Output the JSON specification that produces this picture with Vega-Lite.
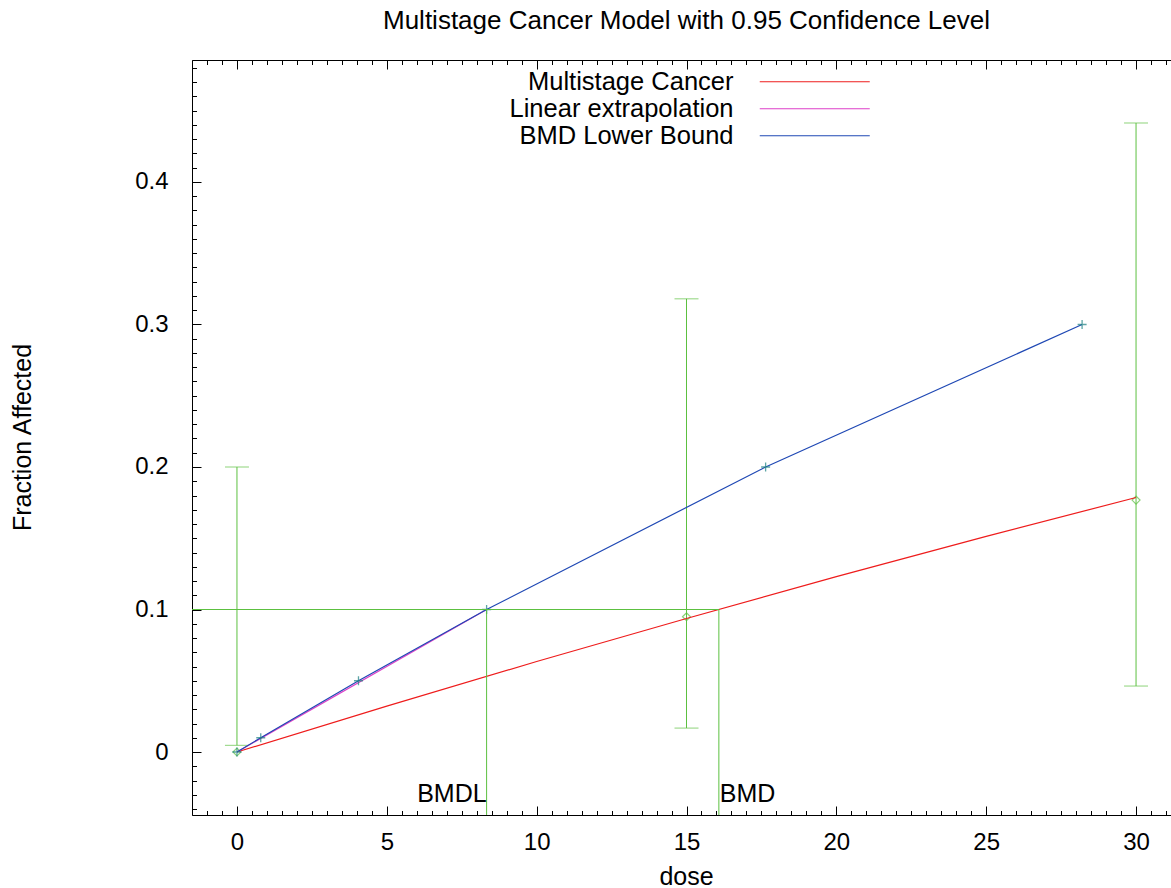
{
  "$schema": "https://vega.github.io/schema/vega-lite/v6.json",
  "autosize": {"type": "none"},
  "padding": {"left": 192, "top": 60, "right": 0, "bottom": 73},
  "width": 989,
  "height": 755,
  "background": "white",
  "title": {"text": "Multistage Cancer Model with 0.95 Confidence Level", "font": "Liberation Sans", "fontSize": 26, "fontWeight": "normal", "color": "#000", "anchor": "middle", "frame": "group", "baseline": "alphabetic", "offset": 5},
  "config": {
    "view": {"stroke": "#000", "strokeWidth": 1},
    "axis": {"domain": false, "grid": false, "labelFont": "Liberation Sans", "labelFontSize": 24, "labelColor": "#000", "tickColor": "#000", "tickWidth": 1, "labelOverlap": false, "titleFont": "Liberation Sans", "titleFontSize": 25, "titleFontWeight": "normal", "titleColor": "#000"}
  },
  "datasets": {
    "curves": [
      {"series": "Multistage Cancer", "dose": 0, "frac": 0, "ord": 0},
      {"series": "Multistage Cancer", "dose": 5, "frac": 0.0322, "ord": 1},
      {"series": "Multistage Cancer", "dose": 10, "frac": 0.0635, "ord": 2},
      {"series": "Multistage Cancer", "dose": 15, "frac": 0.0937, "ord": 3},
      {"series": "Multistage Cancer", "dose": 20, "frac": 0.1231, "ord": 4},
      {"series": "Multistage Cancer", "dose": 25, "frac": 0.1513, "ord": 5},
      {"series": "Multistage Cancer", "dose": 30, "frac": 0.1786, "ord": 6},
      {"series": "Linear extrapolation", "dose": 0, "frac": 0, "ord": 0},
      {"series": "Linear extrapolation", "dose": 8.33, "frac": 0.1, "ord": 1},
      {"series": "BMD Lower Bound", "dose": 0, "frac": 0, "ord": 0},
      {"series": "BMD Lower Bound", "dose": 0.794, "frac": 0.01, "ord": 1},
      {"series": "BMD Lower Bound", "dose": 4.055, "frac": 0.05, "ord": 2},
      {"series": "BMD Lower Bound", "dose": 8.33, "frac": 0.1, "ord": 3},
      {"series": "BMD Lower Bound", "dose": 17.64, "frac": 0.2, "ord": 4},
      {"series": "BMD Lower Bound", "dose": 28.2, "frac": 0.3, "ord": 5}
    ],
    "obs": [
      {"dose": 0, "frac": 0, "lo": 0.0047, "hi": 0.2},
      {"dose": 15, "frac": 0.0949, "lo": 0.0168, "hi": 0.318},
      {"dose": 30, "frac": 0.1768, "lo": 0.0463, "hi": 0.4414}
    ],
    "bmd": [
      {"x": -1.5, "x2": 16.08, "y": 0.1, "y2": 0.1},
      {"x": 8.33, "x2": 8.33, "y": 0.1, "y2": -0.0442},
      {"x": 16.08, "x2": 16.08, "y": 0.1, "y2": -0.0442}
    ],
    "labels": [
      {"x": 8.33, "y": -0.0349, "label": "BMDL", "side": "right"},
      {"x": 16.08, "y": -0.0349, "label": "BMD", "side": "left"}
    ]
  },
  "resolve": {"axis": {"x": "independent", "y": "independent"}},
  "layer": [
    {
      "data": {"name": "obs"},
      "mark": {"type": "rule", "color": "#5cc040", "strokeWidth": 1},
      "encoding": {
        "x": {"field": "dose", "type": "quantitative", "scale": {"domain": [-1.5, 31.5], "nice": false, "zero": false},
              "axis": {"orient": "bottom", "labels": false, "ticks": true, "tickSize": -9, "title": null, "values": [0, 5, 10, 15, 20, 25, 30]}},
        "y": {"field": "lo", "type": "quantitative", "scale": {"domain": [-0.0442, 0.4856], "nice": false, "zero": false},
              "axis": {"orient": "left", "labels": false, "ticks": true, "tickSize": -9, "title": null, "values": [0, 0.1, 0.2, 0.3, 0.4]}},
        "y2": {"field": "hi"}
      }
    },
    {
      "data": {"name": "obs"},
      "transform": [{"fold": ["lo", "hi"], "as": ["end", "val"]}],
      "mark": {"type": "tick", "orient": "horizontal", "color": "#5cc040", "size": 24, "thickness": 1},
      "encoding": {
        "x": {"field": "dose", "type": "quantitative",
              "axis": {"orient": "bottom", "labels": false, "ticks": true, "tickSize": -4.5, "title": null,
                       "values": [-1.5, -1, -0.5, 0, 0.5, 1, 1.5, 2, 2.5, 3, 3.5, 4, 4.5, 5, 5.5, 6, 6.5, 7, 7.5, 8, 8.5, 9, 9.5, 10, 10.5, 11, 11.5, 12, 12.5, 13, 13.5, 14, 14.5, 15, 15.5, 16, 16.5, 17, 17.5, 18, 18.5, 19, 19.5, 20, 20.5, 21, 21.5, 22, 22.5, 23, 23.5, 24, 24.5, 25, 25.5, 26, 26.5, 27, 27.5, 28, 28.5, 29, 29.5, 30, 30.5, 31, 31.5]}},
        "y": {"field": "val", "type": "quantitative",
              "axis": {"orient": "left", "labels": false, "ticks": true, "tickSize": -4.5, "title": null,
                       "values": [-0.04, -0.03, -0.02, -0.01, 0, 0.01, 0.02, 0.03, 0.04, 0.05, 0.06, 0.07, 0.08, 0.09, 0.1, 0.11, 0.12, 0.13, 0.14, 0.15, 0.16, 0.17, 0.18, 0.19, 0.2, 0.21, 0.22, 0.23, 0.24, 0.25, 0.26, 0.27, 0.28, 0.29, 0.3, 0.31, 0.32, 0.33, 0.34, 0.35, 0.36, 0.37, 0.38, 0.39, 0.4, 0.41, 0.42, 0.43, 0.44, 0.45, 0.46, 0.47, 0.48]}}
      }
    },
    {
      "data": {"name": "obs"},
      "mark": {"type": "point", "shape": "diamond", "filled": false, "color": "#5cc040", "size": 64, "strokeWidth": 1.2},
      "encoding": {
        "x": {"field": "dose", "type": "quantitative",
              "axis": {"orient": "top", "labels": false, "ticks": true, "tickSize": -9, "title": null, "values": [0, 5, 10, 15, 20, 25, 30]}},
        "y": {"field": "frac", "type": "quantitative", "axis": null}
      }
    },
    {
      "data": {"name": "curves"},
      "mark": {"type": "line", "strokeWidth": 1.2},
      "encoding": {
        "x": {"field": "dose", "type": "quantitative",
              "axis": {"orient": "bottom", "ticks": false, "labelPadding": 15, "values": [0, 5, 10, 15, 20, 25, 30], "title": "dose", "titleX": 494, "titleY": 69, "titleBaseline": "alphabetic", "titleAlign": "center"}},
        "y": {"field": "frac", "type": "quantitative",
              "axis": {"orient": "left", "ticks": false, "labelPadding": 24, "format": "~g", "values": [0, 0.1, 0.2, 0.3, 0.4], "title": "Fraction Affected", "titleX": -170, "titleY": 377, "titleAngle": -90, "titleAlign": "center", "titleBaseline": "middle"}},
        "color": {"field": "series", "type": "nominal",
                  "scale": {"domain": ["Multistage Cancer", "Linear extrapolation", "BMD Lower Bound"], "range": ["#ee1c1c", "#dd3fc8", "#1f48b4"]},
                  "legend": {"orient": "none", "legendX": 610, "legendY": 9, "title": null, "padding": 0, "rowPadding": -1,
                             "symbolType": "M-5,0L5,0", "symbolSize": 484, "symbolStrokeWidth": 1.2,
                             "labelFont": "Liberation Sans", "labelFontSize": 25.5, "labelColor": "#000", "labelAlign": "right", "labelOffset": -94, "labelLimit": 500}},
        "order": {"field": "ord", "type": "quantitative"}
      }
    },
    {
      "data": {"name": "curves"},
      "transform": [{"filter": "datum.series == 'BMD Lower Bound'"}],
      "mark": {"type": "point", "shape": "M-1,0L1,0M0,-1L0,1", "filled": false, "color": "#1a8080", "size": 81, "strokeWidth": 1.3},
      "encoding": {
        "x": {"field": "dose", "type": "quantitative",
              "axis": {"orient": "top", "labels": false, "ticks": true, "tickSize": -4.5, "title": null,
                       "values": [-1.5, -1, -0.5, 0, 0.5, 1, 1.5, 2, 2.5, 3, 3.5, 4, 4.5, 5, 5.5, 6, 6.5, 7, 7.5, 8, 8.5, 9, 9.5, 10, 10.5, 11, 11.5, 12, 12.5, 13, 13.5, 14, 14.5, 15, 15.5, 16, 16.5, 17, 17.5, 18, 18.5, 19, 19.5, 20, 20.5, 21, 21.5, 22, 22.5, 23, 23.5, 24, 24.5, 25, 25.5, 26, 26.5, 27, 27.5, 28, 28.5, 29, 29.5, 30, 30.5, 31, 31.5]}},
        "y": {"field": "frac", "type": "quantitative", "axis": null}
      }
    },
    {
      "data": {"name": "bmd"},
      "mark": {"type": "rule", "color": "#5cc040", "strokeWidth": 1},
      "encoding": {
        "x": {"field": "x", "type": "quantitative", "axis": null},
        "x2": {"field": "x2"},
        "y": {"field": "y", "type": "quantitative", "axis": null},
        "y2": {"field": "y2"}
      }
    },
    {
      "data": {"name": "labels"},
      "transform": [{"filter": "datum.side == 'right'"}],
      "mark": {"type": "text", "align": "right", "baseline": "alphabetic", "font": "Liberation Sans", "fontSize": 25, "color": "#000"},
      "encoding": {
        "x": {"field": "x", "type": "quantitative", "axis": null},
        "y": {"field": "y", "type": "quantitative", "axis": null},
        "text": {"field": "label"}
      }
    },
    {
      "data": {"name": "labels"},
      "transform": [{"filter": "datum.side == 'left'"}],
      "mark": {"type": "text", "align": "left", "dx": 1, "baseline": "alphabetic", "font": "Liberation Sans", "fontSize": 25, "color": "#000"},
      "encoding": {
        "x": {"field": "x", "type": "quantitative", "axis": null},
        "y": {"field": "y", "type": "quantitative", "axis": null},
        "text": {"field": "label"}
      }
    }
  ]
}
